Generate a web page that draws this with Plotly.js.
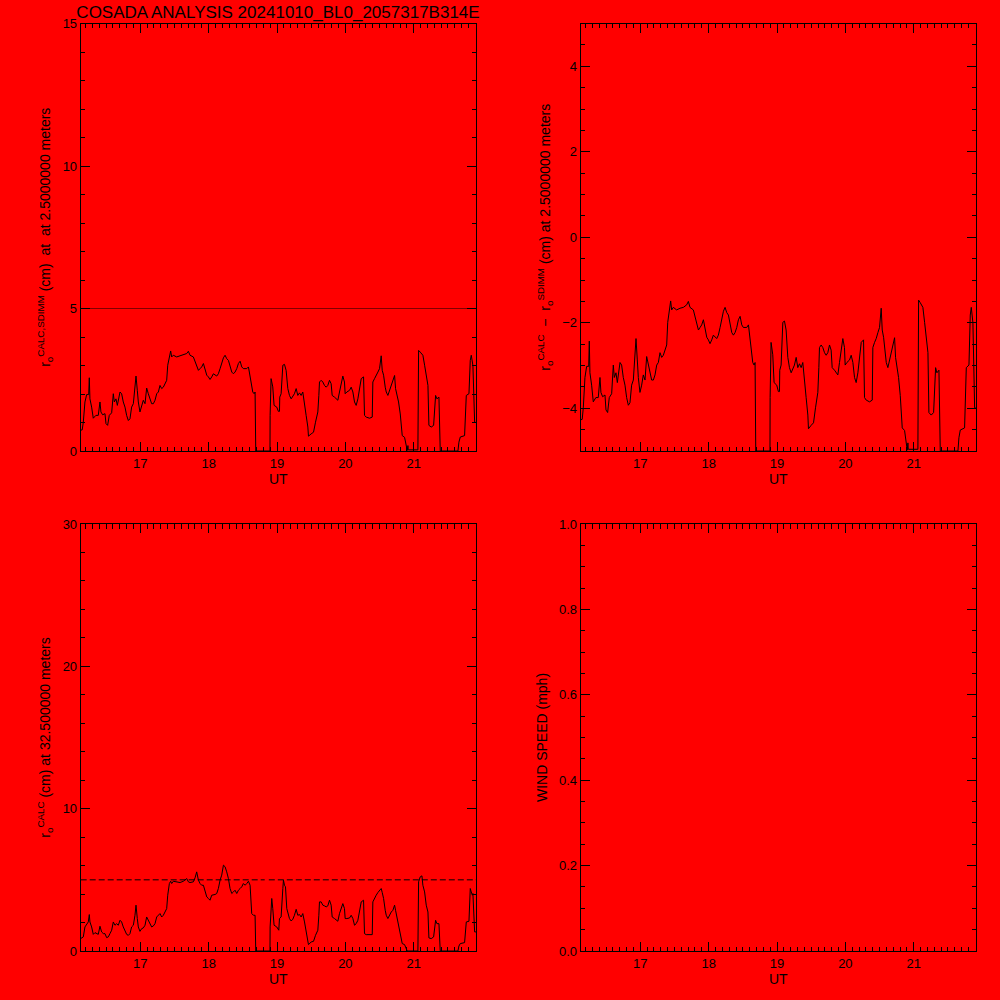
<!DOCTYPE html>
<html>
<head>
<meta charset="utf-8">
<script src="https://cdn.plot.ly/plotly-3.0.1.min.js"></script>
<style>html,body{margin:0;padding:0;background:#ff0000;}#chart{width:1000px;height:1000px;}</style>
</head>
<body>
<div id="chart"></div>
<script>
// ---------- data ----------
const chartTitle = "COSADA ANALYSIS 20241010_BL0_2057317B314E";
const xTickHours = [17, 18, 19, 20, 21];
const sdimmLevel = [5, 5];          // r0 SDIMM reference (cm), top-left panel
const calcRefLevel = [5, 5, null, 5, 5]; // dashed reference, bottom-left panel
const calcRefTime = [16.128, 18.82, 18.85, 18.88, 21.911];

const timeTop = [
 16.128,16.150,16.166,16.190,16.215,16.245,16.254,16.263,16.288,16.312,
 16.350,16.385,16.410,16.424,16.449,16.483,16.498,16.522,16.546,16.581,
 16.605,16.620,16.644,16.664,16.703,16.727,16.751,16.776,16.800,16.825,
 16.849,16.873,16.898,16.922,16.937,16.956,16.971,16.995,17.020,17.044,
 17.069,17.093,17.117,17.142,17.166,17.191,17.215,17.240,17.264,17.288,
 17.313,17.337,17.361,17.386,17.401,17.425,17.444,17.459,17.483,17.532,
 17.581,17.630,17.679,17.703,17.727,17.776,17.801,17.825,17.850,17.874,
 17.898,17.923,17.947,17.972,17.996,18.020,18.045,18.069,18.118,18.142,
 18.167,18.191,18.216,18.240,18.264,18.289,18.313,18.338,18.362,18.386,
 18.411,18.435,18.460,18.484,18.508,18.533,18.557,18.582,18.606,18.630,
 18.645,18.665,18.679,18.689,18.897,18.899,18.913,18.938,18.957,18.996,
 19.020,19.036,19.040,19.060,19.085,19.109,19.133,19.158,19.182,19.207,
 19.231,19.255,19.280,19.304,19.329,19.353,19.377,19.402,19.426,19.451,
 19.460,19.499,19.534,19.563,19.597,19.612,19.621,19.646,19.670,19.695,
 19.719,19.743,19.768,19.792,19.807,19.841,19.865,19.890,19.914,19.939,
 19.963,19.987,19.997,20.022,20.061,20.085,20.110,20.134,20.158,20.183,
 20.207,20.232,20.266,20.280,20.305,20.354,20.393,20.402,20.427,20.451,
 20.476,20.500,20.524,20.539,20.559,20.583,20.598,20.622,20.646,20.671,
 20.695,20.720,20.734,20.754,20.778,20.803,20.832,20.866,20.890,20.905,
 20.915,20.920,21.061,21.071,21.095,21.134,21.159,21.183,21.208,21.222,
 21.256,21.291,21.320,21.339,21.369,21.388,21.647,21.661,21.681,21.744,
 21.769,21.808,21.827,21.842,21.857,21.866,21.891,21.911
];
const r0CalcSdimm = [
 0.73,0.74,1.01,1.72,1.98,1.98,2.57,1.83,1.54,1.15,
 1.25,1.25,1.72,1.37,1.27,1.31,0.96,0.90,1.25,1.34,
 2.01,1.72,1.83,1.60,2.07,2.01,1.72,1.54,1.25,1.07,
 1.13,1.54,1.66,2.19,2.63,2.13,1.72,1.37,1.54,1.78,
 1.66,2.21,2.01,1.78,1.66,1.66,1.78,2.01,2.07,2.30,
 2.19,2.24,2.36,2.48,3.01,3.38,3.51,3.30,3.36,3.30,
 3.34,3.36,3.42,3.50,3.36,3.30,3.12,2.95,2.83,2.89,
 2.95,3.07,2.89,2.66,2.60,2.51,2.60,2.71,2.63,2.71,
 2.89,3.12,3.27,3.36,3.24,3.18,2.95,2.77,2.71,2.77,
 2.89,3.07,3.15,2.95,2.89,2.89,2.89,2.95,2.66,2.30,
 2.07,2.01,2.07,0,0,1.25,2.54,2.25,1.60,1.54,
 1.39,1.39,1.89,2.01,3.01,3.04,2.83,2.19,1.95,1.83,
 1.92,2.01,2.19,1.95,2.04,1.95,2.07,1.72,1.25,0.84,
 0.52,0.60,0.66,1.01,1.37,1.95,2.42,2.48,2.42,2.30,
 2.24,2.30,2.48,2.36,1.95,1.89,1.83,1.78,2.07,2.42,
 2.63,2.42,2.01,2.07,2.13,2.24,2.07,1.72,1.60,1.83,
 2.24,2.54,2.60,1.25,1.19,1.15,1.19,2.42,2.54,2.63,
 2.77,2.89,3.34,2.83,2.66,2.24,2.07,1.95,2.13,2.30,
 2.42,2.65,2.19,2.01,1.72,1.30,0.54,0.48,0.19,0.02,
 0.19,0.04,0.04,3.53,3.47,3.36,3.01,2.71,2.30,0.90,
 0.84,0.90,1.95,1.83,1.89,0,0,0.31,0.49,0.54,
 1.95,2.01,3.18,3.36,3.12,3.00,1.01,1.00
];
const r0CalcMinusSdimm = [
 -4.27,-4.26,-3.99,-3.28,-3.02,-3.02,-2.43,-3.17,-3.46,-3.85,
 -3.75,-3.75,-3.28,-3.63,-3.73,-3.69,-4.04,-4.10,-3.75,-3.66,
 -2.99,-3.28,-3.17,-3.40,-2.93,-2.99,-3.28,-3.46,-3.75,-3.93,
 -3.87,-3.46,-3.34,-2.81,-2.37,-2.87,-3.28,-3.63,-3.46,-3.22,
 -3.34,-2.79,-2.99,-3.22,-3.34,-3.34,-3.22,-2.99,-2.93,-2.70,
 -2.81,-2.76,-2.64,-2.52,-1.99,-1.62,-1.49,-1.70,-1.64,-1.70,
 -1.66,-1.64,-1.58,-1.50,-1.64,-1.70,-1.88,-2.05,-2.17,-2.11,
 -2.05,-1.93,-2.11,-2.34,-2.40,-2.49,-2.40,-2.29,-2.37,-2.29,
 -2.11,-1.88,-1.73,-1.64,-1.76,-1.82,-2.05,-2.23,-2.29,-2.23,
 -2.11,-1.93,-1.85,-2.05,-2.11,-2.11,-2.11,-2.05,-2.34,-2.70,
 -2.93,-2.99,-2.93,-5,-5,-3.75,-2.46,-2.75,-3.40,-3.46,
 -3.61,-3.61,-3.11,-2.99,-1.99,-1.96,-2.17,-2.81,-3.05,-3.17,
 -3.08,-2.99,-2.81,-3.05,-2.96,-3.05,-2.93,-3.28,-3.75,-4.16,
 -4.48,-4.40,-4.34,-3.99,-3.63,-3.05,-2.58,-2.52,-2.58,-2.70,
 -2.76,-2.70,-2.52,-2.64,-3.05,-3.11,-3.17,-3.22,-2.93,-2.58,
 -2.37,-2.58,-2.99,-2.93,-2.87,-2.76,-2.93,-3.28,-3.40,-3.17,
 -2.76,-2.46,-2.40,-3.75,-3.81,-3.85,-3.81,-2.58,-2.46,-2.37,
 -2.23,-2.11,-1.66,-2.17,-2.34,-2.76,-2.93,-3.05,-2.87,-2.70,
 -2.58,-2.35,-2.81,-2.99,-3.28,-3.70,-4.46,-4.52,-4.81,-4.98,
 -4.81,-4.96,-4.96,-1.47,-1.53,-1.64,-1.99,-2.29,-2.70,-4.10,
 -4.16,-4.10,-3.05,-3.17,-3.11,-5,-5,-4.69,-4.51,-4.46,
 -3.05,-2.99,-1.82,-1.64,-1.88,-2.00,-3.99,-4.00
];

const timeLow = [
 16.128,16.166,16.190,16.215,16.239,16.254,16.263,16.288,16.312,16.337,
 16.385,16.410,16.434,16.459,16.483,16.507,16.532,16.556,16.581,16.605,
 16.629,16.654,16.678,16.703,16.727,16.751,16.776,16.800,16.825,16.849,
 16.873,16.898,16.922,16.937,16.956,16.971,16.995,17.020,17.044,17.069,
 17.093,17.117,17.142,17.166,17.191,17.215,17.240,17.264,17.288,17.313,
 17.337,17.361,17.386,17.401,17.425,17.444,17.459,17.483,17.532,17.581,
 17.630,17.679,17.703,17.727,17.776,17.801,17.825,17.850,17.874,17.898,
 17.923,17.947,17.972,17.996,18.020,18.045,18.069,18.094,18.118,18.142,
 18.167,18.191,18.216,18.240,18.264,18.289,18.313,18.338,18.362,18.386,
 18.411,18.435,18.460,18.484,18.508,18.533,18.557,18.582,18.606,18.620,
 18.630,18.655,18.679,18.689,18.897,18.899,18.923,18.938,18.957,18.996,
 19.026,19.036,19.060,19.085,19.094,19.109,19.124,19.143,19.158,19.182,
 19.207,19.231,19.255,19.280,19.304,19.329,19.353,19.377,19.402,19.426,
 19.451,19.460,19.499,19.534,19.563,19.597,19.612,19.621,19.646,19.670,
 19.695,19.719,19.743,19.768,19.792,19.807,19.841,19.865,19.890,19.914,
 19.939,19.963,19.987,19.997,20.022,20.061,20.085,20.110,20.134,20.158,
 20.183,20.207,20.232,20.266,20.280,20.305,20.393,20.402,20.427,20.451,
 20.476,20.500,20.524,20.539,20.559,20.583,20.598,20.622,20.646,20.671,
 20.695,20.720,20.734,20.754,20.778,20.803,20.832,20.866,20.890,20.905,
 21.061,21.071,21.095,21.120,21.134,21.159,21.183,21.208,21.222,21.256,
 21.291,21.320,21.339,21.369,21.388,21.647,21.661,21.681,21.744,21.769,
 21.808,21.827,21.842,21.857,21.866,21.891,21.911
];
const r0Calc32 = [
 0.87,0.99,1.69,1.92,2.04,2.56,2.04,1.69,1.17,1.29,
 1.17,1.74,1.34,1.22,1.22,0.94,0.99,1.22,1.46,2.04,
 1.81,1.92,1.81,2.16,2.04,1.69,1.46,1.17,1.10,1.22,
 1.69,1.81,2.51,3.22,2.28,1.69,1.38,1.57,1.62,1.81,
 2.39,2.16,1.81,1.69,1.76,1.92,2.39,2.51,2.63,2.39,
 2.51,2.74,2.98,3.92,4.74,4.90,4.74,4.90,4.86,4.81,
 4.90,5.09,4.86,4.81,4.86,5.14,5.56,4.98,4.74,4.62,
 4.62,4.27,3.80,3.69,3.57,3.92,3.92,3.97,4.04,4.39,
 4.98,5.33,6.03,5.92,5.56,5.09,4.39,4.04,4.15,4.27,
 4.04,4.27,4.39,4.51,4.74,4.62,4.74,4.90,4.62,3.69,
 2.63,2.51,2.51,0,0,1.69,3.69,2.98,1.81,1.69,
 1.46,2.28,2.39,4.39,4.98,4.62,4.51,2.98,2.63,2.28,
 2.11,2.23,2.51,2.93,2.51,2.56,2.39,2.63,2.04,1.34,
 0.75,0.45,0.63,0.68,1.10,1.46,2.51,3.45,3.45,3.22,
 3.17,3.10,3.17,3.57,3.22,2.39,2.28,2.16,2.09,2.63,
 2.98,3.33,2.98,2.28,2.28,2.32,2.51,2.28,1.81,1.92,
 2.16,2.74,3.45,3.57,1.22,1.15,1.15,3.45,3.73,3.92,
 4.11,4.27,4.39,4.11,3.69,2.86,2.51,2.28,2.51,2.74,
 2.86,3.22,2.86,2.39,1.81,1.34,0.52,0.45,0.16,0,
 0,4.86,5.21,5.28,4.62,4.15,3.22,2.74,0.92,0.87,
 0.99,2.16,1.92,1.92,0,0,0.35,0.52,0.59,2.04,
 2.09,4.39,4.15,3.92,4.04,1.34,1.34
];

// ---------- layout ----------
const FONT = "Liberation Sans, Arial, sans-serif";
const xRange = [16.128, 21.911];
const black = "#000000";

function baseAxis(extra) {
  return Object.assign({
    ticks: "inside", ticklen: 9, tickwidth: 1, tickcolor: black,
    showline: true, linecolor: black, linewidth: 1, mirror: "ticks",
    showgrid: false, zeroline: false,
    tickfont: {family: FONT, size: 13, color: black}
  }, extra);
}
function xAxis(domain, anchor) {
  return baseAxis({
    domain: domain, anchor: anchor, range: xRange,
    tickmode: "array", tickvals: xTickHours, ticktext: xTickHours.map(String),
    minor: {tick0: 0, dtick: 0.1, ticks: "inside", ticklen: 4.5, tickwidth: 1, tickcolor: black, showgrid: false},
    title: {text: "UT", font: {family: FONT, size: 14, color: black}, standoff: 2}
  });
}
function yAxis(domain, anchor, range, dtick, minorDtick, title, fmt) {
  const a = baseAxis({
    domain: domain, anchor: anchor, range: range, tick0: 0, dtick: dtick,
    minor: {tick0: 0, dtick: minorDtick, ticks: "inside", ticklen: 4.5, tickwidth: 1, tickcolor: black, showgrid: false},
    title: {text: title, font: {family: FONT, size: 14, color: black}, standoff: 8}
  });
  if (fmt) a.tickformat = fmt;
  return a;
}

const xL = [0.0807, 0.476], xR = [0.5807, 0.976];
const yT = [0.549, 0.9765], yB = [0.049, 0.476];

const layout = {
  width: 1000, height: 1000,
  margin: {l: 0, r: 0, t: 0, b: 0, pad: 0},
  paper_bgcolor: "#ff0000", plot_bgcolor: "#ff0000",
  showlegend: false,
  hovermode: false,
  title: {text: chartTitle, x: 0.278, xanchor: "center", y: 0.988, yanchor: "middle",
          font: {family: FONT, size: 17, color: black}},
  xaxis: xAxis(xL, "y"),
  yaxis: yAxis(yT, "x", [0, 15], 5, 1, "r<sub>o</sub><sup>CALC,SDIMM</sup> (cm)  at  at 2.5000000 meters"),
  xaxis2: xAxis(xR, "y2"),
  yaxis2: yAxis(yT, "x2", [-5, 5], 2, 0.5, "r<sub>o</sub><sup>CALC</sup>  \u2212  r<sub>o</sub><sup>SDIMM</sup> (cm) at 2.5000000 meters"),
  xaxis3: xAxis(xL, "y3"),
  yaxis3: yAxis(yB, "x3", [0, 30], 10, 2, "r<sub>o</sub><sup>CALC</sup> (cm) at 32.500000 meters"),
  xaxis4: xAxis(xR, "y4"),
  yaxis4: yAxis(yB, "x4", [0, 1], 0.2, 0.05, "WIND SPEED (mph)", ".1f")
};

const lineStyle = {color: black, width: 1};
const traces = [
  {x: [xRange[0], xRange[1]], y: sdimmLevel, xaxis: "x", yaxis: "y", mode: "lines",
   line: {color: "#800000", width: 1}, cliponaxis: true},
  {x: timeTop, y: r0CalcSdimm, xaxis: "x", yaxis: "y", mode: "lines", line: lineStyle},
  {x: timeTop, y: r0CalcMinusSdimm, xaxis: "x2", yaxis: "y2", mode: "lines", line: lineStyle},
  {x: calcRefTime, y: calcRefLevel, xaxis: "x3", yaxis: "y3", mode: "lines",
   line: {color: black, width: 1, dash: "6px,3px"}, connectgaps: false},
  {x: timeLow, y: r0Calc32, xaxis: "x3", yaxis: "y3", mode: "lines", line: lineStyle},
  {x: [], y: [], xaxis: "x4", yaxis: "y4", mode: "lines", line: lineStyle}
];

Plotly.newPlot("chart", traces, layout, {staticPlot: true, displayModeBar: false});
</script>
</body>
</html>
